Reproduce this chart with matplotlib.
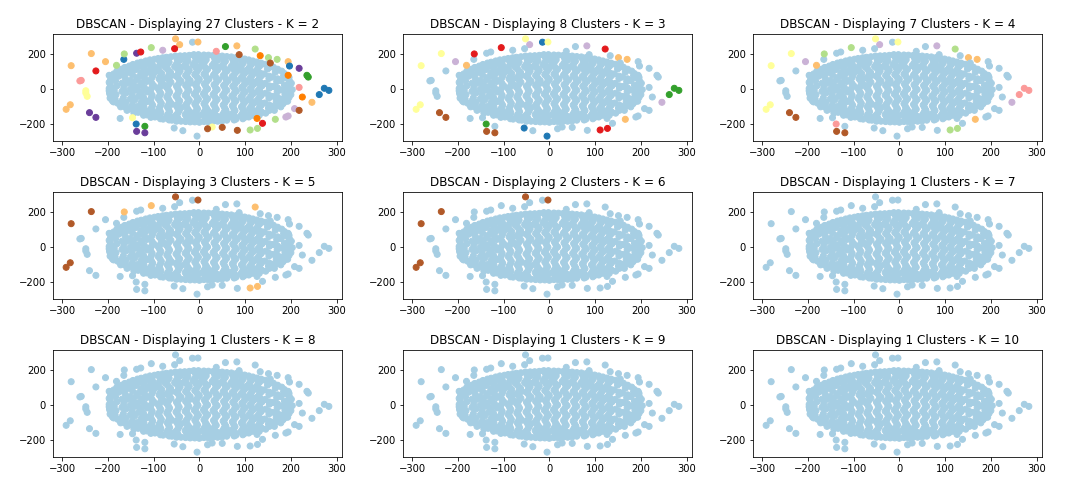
import numpy as np
import matplotlib
matplotlib.use('Agg')
import matplotlib.pyplot as plt

k_values = [2, 3, 4, 5, 6, 7, 8, 9, 10]
n_clusters = [27, 8, 7, 3, 2, 1, 1, 1, 1]

# main blob, read chain by chain from left to right
cloud = [
    (-197, 80), (-194, 55), (-195, 30), (-197, 5), (-196, -15), (-194, -38), (-191, -60), (-187, -72),
    (-180, 105), (-176, 75), (-183, 48), (-180, 20), (-186, -5), (-182, -30), (-184, -55), (-178, -80), (-172, -100),
    (-163, 125), (-158, 95), (-162, 65), (-157, 35), (-165, 8), (-160, -20), (-166, -48), (-160, -75), (-163, -100), (-158, -120),
    (-145, 142), (-140, 112), (-146, 82), (-138, 52), (-144, 24), (-139, -5), (-147, -32), (-141, -60), (-146, -88), (-140, -112), (-143, -135),
    (-127, 155), (-122, 125), (-128, 95), (-120, 68), (-126, 38), (-120, 10), (-128, -18), (-122, -46), (-127, -74), (-121, -100), (-126, -125), (-122, -148),
    (-108, 168), (-102, 138), (-110, 108), (-101, 80), (-108, 50), (-100, 22), (-109, -6), (-103, -34), (-108, -62), (-102, -90), (-107, -116), (-103, -140), (-106, -160),
    (-90, 176), (-85, 146), (-92, 116), (-82, 90), (-88, 60), (-80, 32), (-90, 4), (-84, -24), (-90, -52), (-83, -80), (-88, -108), (-84, -134), (-89, -156), (-85, -168),
    (-72, 183), (-66, 155), (-74, 125), (-63, 98), (-70, 68), (-62, 40), (-72, 12), (-65, -16), (-71, -44), (-64, -72), (-70, -100), (-65, -128), (-71, -152), (-66, -175),
    (-52, 190), (-46, 160), (-54, 130), (-42, 104), (-50, 74), (-40, 46), (-50, 18), (-44, -10), (-51, -38), (-43, -66), (-50, -94), (-44, -122), (-51, -148), (-46, -170), (-50, -182),
    (-32, 192), (-25, 164), (-33, 134), (-22, 108), (-30, 78), (-20, 50), (-30, 22), (-23, -6), (-31, -34), (-22, -62), (-30, -90), (-24, -118), (-31, -144), (-26, -166), (-30, -184),
    (-12, 198), (-6, 170), (-14, 140), (-2, 112), (-10, 84), (0, 56), (-9, 28), (-3, 0), (-11, -28), (-2, -56), (-10, -84), (-4, -112), (-11, -138), (-6, -162), (-10, -186),
    (10, 196), (15, 168), (7, 140), (18, 114), (10, 86), (21, 58), (11, 30), (18, 2), (9, -26), (18, -54), (10, -82), (16, -110), (9, -136), (14, -160), (10, -184),
    (30, 193), (36, 165), (28, 136), (40, 110), (31, 82), (42, 54), (32, 26), (39, -2), (30, -30), (39, -58), (31, -86), (37, -114), (30, -140), (35, -164), (30, -182),
    (50, 190), (57, 160), (49, 132), (61, 106), (52, 78), (63, 50), (53, 22), (60, -6), (51, -34), (60, -62), (52, -90), (58, -118), (51, -144), (56, -166), (50, -180),
    (70, 185), (77, 156), (69, 128), (82, 102), (72, 74), (83, 46), (73, 18), (81, -10), (71, -38), (80, -66), (72, -94), (78, -122), (71, -148), (76, -175),
    (90, 177), (96, 150), (88, 122), (101, 96), (92, 68), (103, 40), (93, 12), (100, -16), (91, -44), (100, -72), (92, -100), (98, -126), (91, -150), (95, -168),
    (108, 168), (114, 142), (106, 114), (118, 88), (110, 60), (120, 32), (111, 4), (118, -24), (109, -52), (118, -80), (110, -108), (115, -132), (108, -158),
    (126, 156), (131, 130), (124, 102), (135, 76), (127, 48), (137, 20), (128, -8), (135, -36), (126, -64), (135, -92), (127, -120), (131, -148),
    (144, 143), (149, 116), (142, 88), (152, 62), (144, 34), (153, 6), (145, -22), (152, -50), (143, -78), (151, -106), (145, -136),
    (162, 126), (166, 98), (160, 70), (169, 44), (161, 16), (170, -12), (162, -40), (168, -68), (161, -96), (164, -120),
    (180, 104), (184, 78), (178, 50), (186, 24), (179, -4), (187, -32), (179, -58), (183, -82), (178, -100),
    (194, 76), (197, 48), (194, 24), (199, 2), (203, -2), (197, -22), (196, -46), (193, -68),
    # rim of the blob
    (-195, 78), (-187, 88), (-170, 115), (-153, 133), (-135, 150), (-117, 162), (-98, 172), (-80, 180), (-62, 186), (-42, 191), (-22, 194), (-2, 198),
    (20, 195), (40, 191), (60, 187), (80, 181), (99, 173), (117, 162), (135, 150), (153, 135), (171, 115), (186, 90), (196, 68), (201, 35),
    (-196, -25), (-195, -50), (-189, -68), (-168, -92), (-152, -112), (-134, -130), (-115, -146), (-97, -158), (-79, -170), (-60, -176), (-40, -182), (-20, -186),
    (0, -188), (20, -186), (40, -182), (60, -176), (80, -170), (99, -160), (117, -148), (136, -130), (153, -114), (171, -92), (187, -70), (200, -30),
    (-197, 40), (-197, -8),
    # filling the outer parts, where there are hardly any gaps
    (-187, 62), (-187, 8), (-187, -42),
    (-169, 85), (-169, 35), (-169, -12), (-169, -65), (-169, -88),
    (-151, 105), (-151, 50), (-151, 0), (-151, -55), (-151, -105),
    (-133, 130), (-133, 70), (-133, 15), (-133, -40), (-133, -95), (-133, -130),
    (-115, 145), (-115, 95), (-115, 45), (-115, -15), (-115, -70), (-115, -125),
    (135, 142), (135, 90), (135, 35), (135, -22), (135, -78), (135, -130),
    (153, 125), (153, 75), (153, 20), (153, -35), (153, -90), (153, -120),
    (171, 110), (171, 60), (171, 8), (171, -45), (171, -85),
    (188, 65), (188, 12), (188, -20), (188, -45),
    # closing the chains in the middle
    (-105, 153), (-106, 123), (-105, 94), (-104, 65), (-104, 36), (-104, 8), (-106, -20), (-105, -48), (-105, -76), (-104, -103), (-105, -128),
    (-87, 161), (-88, 131), (-87, 103), (-85, 75), (-84, 46), (-85, 18), (-87, -10), (-87, -38), (-86, -66), (-85, -94), (-86, -121), (-86, -145),
    (-69, 169), (-70, 140), (-68, 111), (-66, 83), (-66, 54), (-67, 26), (-68, -2), (-68, -30), (-67, -58), (-67, -86), (-67, -114), (-68, -140), (-68, -163),
    (-49, 175), (-50, 145), (-48, 117), (-46, 89), (-45, 60), (-45, 32), (-47, 4), (-47, -24), (-47, -52), (-46, -80), (-47, -108), (-47, -135), (-48, -159),
    (-28, 178), (-29, 149), (-27, 121), (-26, 93), (-25, 64), (-25, 36), (-26, 8), (-27, -20), (-26, -48), (-26, -76), (-27, -104), (-27, -131), (-28, -155), (-28, -175),
    (-9, 184), (-10, 155), (-8, 126), (-6, 98), (-5, 70), (-4, 42), (-6, 14), (-7, -14), (-6, -42), (-6, -70), (-7, -98), (-7, -125), (-8, -150), (-8, -174),
    (12, 182), (11, 154), (12, 127), (14, 100), (15, 72), (16, 44), (14, 16), (13, -12), (13, -40), (14, -68), (13, -96), (12, -123), (11, -148), (12, -172),
    (33, 179), (32, 150), (34, 123), (35, 96), (36, 68), (37, 40), (35, 12), (34, -16), (34, -44), (35, -72), (34, -100), (33, -127), (32, -152), (32, -173),
    (53, 175), (53, 146), (55, 119), (56, 92), (57, 64), (58, 36), (56, 8), (55, -20), (55, -48), (56, -76), (55, -104), (54, -131), (53, -155),
    (73, 170), (73, 142), (75, 115), (77, 88), (77, 60), (78, 32), (77, 4), (76, -24), (75, -52), (76, -80), (75, -108), (74, -135), (73, -161),
    (93, 163), (92, 136), (94, 109), (96, 82), (97, 54), (98, 26), (96, -2), (95, -30), (95, -58), (96, -86), (95, -113), (94, -138),
    (111, 155), (110, 128), (112, 101), (114, 74), (115, 46), (115, 18), (114, -10), (113, -38), (113, -66), (114, -94), (112, -120), (111, -145),
    (128, 143), (127, 116), (129, 89), (131, 62), (132, 34), (132, 6), (131, -22), (130, -50), (130, -78), (131, -106), (129, -134),
    # places where neighbouring chains touch
    (-97, 100), (-79, 60), (-60, -85), (-60, 80), (-40, 125), (-40, -105), (-20, -130), (-20, 35), (0, -150), (0, 130),
    (20, -125), (40, 125), (40, -155), (60, -135), (80, 115), (80, -160), (99, -140), (117, -120), (117, 100),
    (-79, 150), (-40, 170), (0, 170), (40, 165), (80, 150), (-60, -160), (-20, -165), (20, -160), (60, -165), (-97, -130),
]

# scattered points round the blob
outer_x = [-52, -43, -15, -3, 57, 82, 122, 133, 151, 170, 155, 194, 197, 218, 194, 235, 238, 218, 225, 246, 262, 273, 283,
           208, 218, 194, 189, 166, 138, 126, 127, 111, 83, 50, 28, 18, -5, -36, -55, -119, -138, -119, -137, -146, -173,
           -226, -240, -282, -291, -245, -248, -248, -258, -261, -280, -236, -226, -205, -181, -165, -164, -137, -128,
           -105, -80, -54, 37, 87]
outer_y = [288, 255, 269, 270, 244, 248, 230, 192, 181, 171, 150, 158, 133, 120, 80, 80, 70, 11, -44, -74, -30, 6, -6,
           -110, -120, -152, -158, -171, -194, -166, -223, -232, -234, -217, -215, -225, -267, -236, -221, -211, -198, -248, -240, -162, -166,
           -160, -133, -88, -114, -40, -8, -21, 51, 48, 135, 204, 105, 158, 137, 171, 202, 206, 213,
           238, 223, 232, 217, 198]

# colour index in Paired for every outer point
labels_k2 = [6, 6, 0, 6, 3, 6, 2, 7, 2, 2, 11, 6, 1, 9, 7, 3, 3, 4, 7, 6, 1, 1, 1,
             8, 11, 8, 8, 2, 5, 7, 2, 2, 11, 11, 10, 11, 0, 0, 0, 3, 1, 9, 9, 10, 0,
             9, 9, 6, 6, 10, 10, 10, 4, 4, 6, 6, 5, 6, 2, 1, 2, 9, 5,
             2, 8, 5, 4, 11]
labels_k3 = [10, 8, 1, 10, 0, 8, 5, 0, 6, 6, 0, 0, 0, 0, 0, 0, 0, 0, 0, 8, 3, 3, 3,
             0, 0, 0, 0, 6, 0, 0, 5, 5, 0, 0, 0, 0, 1, 0, 1, 0, 3, 11, 11, 0, 0,
             11, 11, 10, 10, 0, 0, 0, 0, 0, 10, 10, 0, 8, 6, 0, 5, 0, 0,
             5, 0, 0, 0, 0]
labels_k4 = [10, 8, 0, 10, 0, 8, 2, 0, 6, 6, 0, 0, 0, 0, 0, 0, 0, 0, 0, 8, 4, 4, 4,
             0, 0, 0, 0, 6, 0, 0, 2, 2, 0, 0, 0, 0, 0, 0, 0, 0, 4, 11, 11, 0, 0,
             11, 11, 10, 10, 0, 0, 0, 0, 0, 10, 10, 0, 8, 6, 0, 2, 0, 0,
             2, 0, 0, 0, 0]
labels_k5 = [11, 0, 0, 11, 0, 0, 6, 0, 0, 0, 0, 0, 0, 0, 0, 0, 0, 0, 0, 0, 0, 0, 0,
             0, 0, 0, 0, 0, 0, 0, 6, 6, 0, 0, 0, 0, 0, 0, 0, 0, 0, 0, 0, 0, 0,
             0, 0, 11, 11, 0, 0, 0, 0, 0, 11, 11, 0, 0, 0, 0, 6, 0, 0,
             6, 0, 0, 0, 0]
labels_k6 = [11, 0, 0, 11, 0, 0, 0, 0, 0, 0, 0, 0, 0, 0, 0, 0, 0, 0, 0, 0, 0, 0, 0,
             0, 0, 0, 0, 0, 0, 0, 0, 0, 0, 0, 0, 0, 0, 0, 0, 0, 0, 0, 0, 0, 0,
             0, 0, 11, 11, 0, 0, 0, 0, 0, 11, 11, 0, 0, 0, 0, 0, 0, 0,
             0, 0, 0, 0, 0]
labels_rest = [0] * len(outer_x)
all_labels = [labels_k2, labels_k3, labels_k4, labels_k5, labels_k6,
              labels_rest, labels_rest, labels_rest, labels_rest]

cloud = np.array(cloud)
xs = np.concatenate([cloud[:, 0], outer_x])
ys = np.concatenate([cloud[:, 1], outer_y])

fig, axes = plt.subplots(3, 3, figsize=(15, 7), dpi=72)
fig.subplots_adjust(left=53/1080, right=1042/1080, top=1-34/504, bottom=1-457/504,
                    wspace=0.211, hspace=0.477)

for ax, k, n, labels in zip(axes.flat, k_values, n_clusters, all_labels):
    colours = np.concatenate([np.zeros(len(cloud)), labels])
    ax.scatter(xs, ys, c=colours, cmap='Paired', vmin=0, vmax=11)
    ax.set_title(f'DBSCAN - Displaying {n} Clusters - K = {k}')

fig.savefig('out.png', dpi=72)
